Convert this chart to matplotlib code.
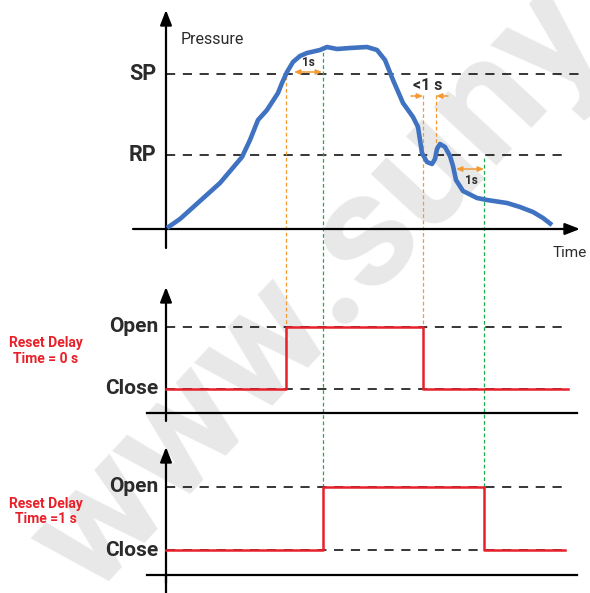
import matplotlib.pyplot as plt

plt.rcParams['font.family'] = ['Roboto', 'DejaVu Sans']

# pressure curve (pixel-like units, y down)
curve_x = [167, 180, 200, 220, 242, 250, 258, 267, 278, 282, 287, 293, 300, 307, 320,
           327, 337, 350, 367, 377, 385, 393, 403, 413, 418, 422, 427, 432, 435, 437,
           440, 445, 450, 453, 456, 463, 477, 487, 507, 520, 533, 543, 552]
curve_y = [228, 219, 201, 183, 157, 140, 120, 110, 93, 83, 72, 62, 56, 53, 50,
           47, 49, 48, 47, 50, 60, 80, 103, 117, 127, 153, 162, 164, 159, 149,
           144, 147, 156, 166, 180, 191, 198, 200, 203, 207, 212, 218, 225]

levels_top = {'SP': 74, 'RP': 155}
levels_p1 = {'Open': 327, 'Close': 389}
levels_p2 = {'Open': 487, 'Close': 550}

# switch times on the shared time axis
t_sp = 286      # pressure reaches SP
t_sp_1s = 323   # SP + 1 s
t_rp = 423      # pressure falls below RP
t_bump = 436
t_rp_1s = 484   # RP + 1 s

p1_x = [166, t_sp, t_sp, t_rp, t_rp, 568]
p1_state = ['Close', 'Close', 'Open', 'Open', 'Close', 'Close']
p2_x = [166, t_sp_1s, t_sp_1s, t_rp_1s, t_rp_1s, 565]
p2_state = ['Close', 'Close', 'Open', 'Open', 'Close', 'Close']

blue = '#3f72c0'
orange = '#f39a34'
green = '#1fae4f'
red = '#e8202a'
dark = '#2b2b2b'

fig = plt.figure(figsize=(5.9, 5.93), dpi=100)
ax = fig.add_axes([0, 0, 1, 1])
ax.set_xlim(0, 590)
ax.set_ylim(593, 0)
ax.axis('off')

# watermark
ax.text(320, 290, 'www.suny', fontsize=118, fontweight='bold', color='#e8e8e8',
        rotation=47, ha='center', va='center', zorder=0)


def arrow_axis(x0, y0, x1, y1):
    ax.annotate('', xy=(x1, y1), xytext=(x0, y0),
                arrowprops=dict(arrowstyle='-|>,head_length=0.9,head_width=0.35',
                                color='black', lw=1.6, shrinkA=0, shrinkB=0), zorder=3)


# top panel axes
arrow_axis(166, 248, 166, 10)
arrow_axis(133, 229, 580, 229)
ax.text(181, 39, 'Pressure', fontsize=11.5, color=dark, va='center')
ax.text(553, 253, 'Time', fontsize=11, color=dark, va='center')
for name, y in levels_top.items():
    end = 583 if name == 'SP' else 565
    ax.plot([166, end], [y, y], color='black', lw=1.1, dashes=(6, 5), zorder=2)
    ax.text(156, y, name, fontsize=15.5, fontweight='bold', color=dark, ha='right', va='center')

ax.plot(curve_x, curve_y, color=blue, lw=3.3, solid_capstyle='butt',
        solid_joinstyle='round', zorder=4)

# vertical guide lines
ax.plot([t_sp, t_sp], [76, 327], color=orange, lw=0.9, ls=(0, (3, 2)), zorder=2)
ax.plot([t_rp, t_rp], [95, 327], color=orange, lw=0.9, ls=(0, (3, 2)), zorder=2)
ax.plot([t_bump, t_bump], [95, 148], color=orange, lw=0.9, ls=(0, (3, 2)), zorder=2)
ax.plot([t_sp_1s, t_sp_1s], [46, 487], color=green, lw=0.9, ls=(0, (3, 2)), zorder=2)
ax.plot([t_rp_1s, t_rp_1s], [158, 487], color=green, lw=0.9, ls=(0, (3, 2)), zorder=2)

# delay annotations
small_arrow = dict(arrowstyle='<|-|>,head_length=0.35,head_width=0.15', color=orange,
                   lw=1.1, shrinkA=0, shrinkB=0)
ax.annotate('', xy=(294, 72), xytext=(322, 72), arrowprops=small_arrow, zorder=5)
ax.text(308, 63, '1s', fontsize=8.5, fontweight='bold', color=dark, ha='center', va='center')
ax.annotate('', xy=(456, 169), xytext=(484, 169), arrowprops=small_arrow, zorder=5)
ax.text(471, 180, '1s', fontsize=8.5, fontweight='bold', color=dark, ha='center', va='center')
one_arrow = dict(arrowstyle='-|>,head_length=0.35,head_width=0.15', color=orange,
                 lw=1.1, shrinkA=0, shrinkB=0)
ax.annotate('', xy=(t_rp, 96), xytext=(411, 96), arrowprops=one_arrow, zorder=5)
ax.annotate('', xy=(t_bump, 96), xytext=(448, 96), arrowprops=one_arrow, zorder=5)
ax.text(428, 85, '<1 s', fontsize=11.5, fontweight='bold', color=dark, ha='center', va='center')


def state_panel(y_base, y_top, levels, xs, states, end, label):
    arrow_axis(166, y_base + 8, 166, y_top)
    ax.plot([147, 577], [y_base, y_base], color='black', lw=1.6, zorder=3)
    for name, y in levels.items():
        ax.plot([166, end], [y, y], color='black', lw=1.1, dashes=(6, 5), zorder=2)
        ax.text(158, y, name, fontsize=15, fontweight='bold', color=dark,
                ha='right', va='center')
    ax.plot(xs, [levels[s] for s in states], color=red, lw=1.8, zorder=4)
    ax.text(46, (levels['Open'] + levels['Close']) / 2 - 7, label, fontsize=10,
            fontweight='bold', color=red, ha='center', va='center', linespacing=1.15)


state_panel(413, 287, levels_p1, p1_x, p1_state, 568, 'Reset Delay\nTime = 0 s')
state_panel(575, 447, levels_p2, p2_x, p2_state, 565, 'Reset Delay\nTime =1 s')
ax.plot([166, 166], [575, 593], color='black', lw=1.6, zorder=3)

fig.savefig('out.png', dpi=100)
